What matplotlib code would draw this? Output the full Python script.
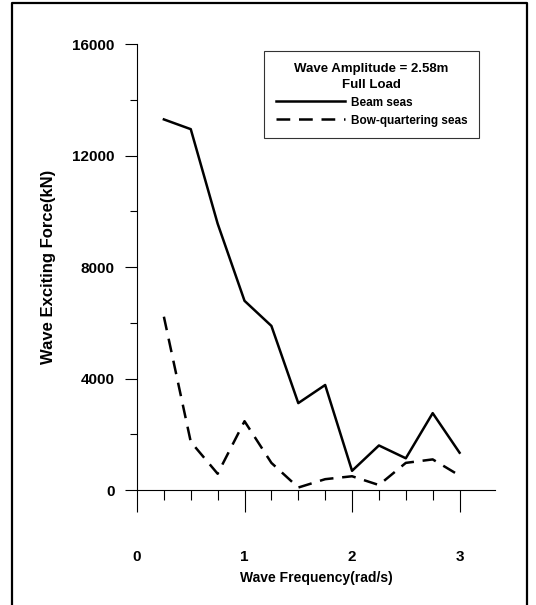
import matplotlib
matplotlib.use("Agg")
import matplotlib.pyplot as plt
from matplotlib.lines import Line2D

plt.rcParams['font.family'] = ['Liberation Sans', 'DejaVu Sans']
plt.rcParams['font.weight'] = 'bold'

# Data
freq = [0.25, 0.5, 0.75, 1.0, 1.25, 1.5, 1.75, 2.0, 2.25, 2.5, 2.75, 3.0]
beam_seas = [13300, 12950, 9560, 6790, 5890, 3120, 3770, 690, 1600, 1140, 2760, 1340]
bow_quartering = [6220, 1730, 585, 2470, 975, 90, 390, 495, 180, 975, 1100, 520]

x_major = [0, 1, 2, 3]
y_major = [0, 4000, 8000, 12000, 16000]

fig = plt.figure(figsize=(5.36, 6.05), dpi=100)
ax = fig.add_axes([0.2556, 0.190, 0.668, 0.737])

line1, = ax.plot(freq, beam_seas, color="black", linestyle="-", linewidth=1.8,
                 label="Beam seas")
line2, = ax.plot(freq, bow_quartering, color="black", linestyle=(0, (5.5, 3.5)),
                 linewidth=1.8, label="Bow-quartering seas")

ax.set_xlim(0, 3.33)
ax.set_ylim(0, 16000)
ax.set_xticks(x_major)
ax.set_xticks([0.25 * i for i in range(1, 13) if i % 4 != 0], minor=True)
ax.set_yticks(y_major)
ax.set_yticks([2000, 6000, 10000, 14000], minor=True)

ax.spines["top"].set_visible(False)
ax.spines["right"].set_visible(False)
ax.spines["left"].set_linewidth(0.8)
ax.spines["bottom"].set_linewidth(0.8)

ax.tick_params(axis="x", which="major", direction="out", length=16, width=0.8,
               pad=27, labelsize=11)
ax.tick_params(axis="x", which="minor", direction="out", length=7, width=0.8)
ax.tick_params(axis="y", which="major", direction="out", length=9, width=0.8,
               pad=7, labelsize=11)
ax.tick_params(axis="y", which="minor", direction="out", length=5, width=0.8)

ax.set_xlabel("Wave Frequency(rad/s)", fontsize=10, fontweight="bold", labelpad=5)
ax.set_ylabel("Wave Exciting Force(kN)", fontsize=12, fontweight="bold", labelpad=12)

leg = ax.legend(handles=[line1, line2], title="Wave Amplitude = 2.58m\nFull Load",
                loc="upper right", bbox_to_anchor=(0.955, 0.985), borderaxespad=0,
                fontsize=8.5, title_fontsize=9.5, frameon=True, fancybox=False,
                edgecolor="black", handlelength=5.8, borderpad=1.0,
                labelspacing=0.5, handletextpad=0.5)
leg.get_frame().set_linewidth(0.8)
leg.get_title().set_fontweight("bold")
leg.get_title().set_multialignment("center")
leg.get_title().set_linespacing(1.45)

# Frame around the whole figure (left, top, right edges)
fig.add_artist(Line2D([0.022, 0.022, 0.983, 0.983], [0.0, 0.995, 0.995, 0.0],
                      transform=fig.transFigure, color="black", linewidth=1.6))

fig.savefig("out.png", dpi=100)
